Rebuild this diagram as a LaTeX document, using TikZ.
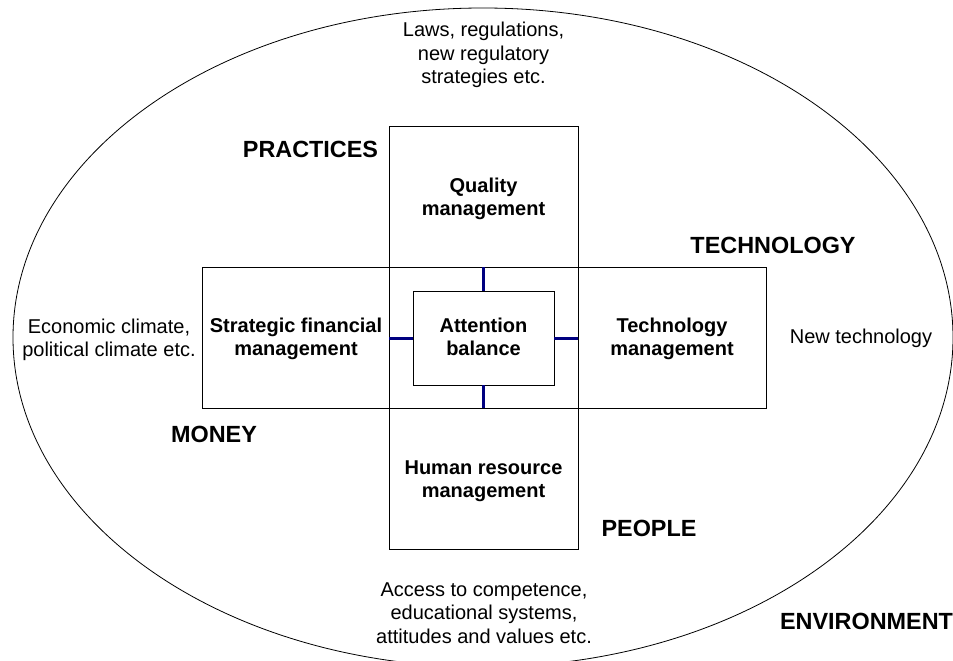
\documentclass[tikz,border=0pt]{standalone}
\usepackage{fontspec}
\setmainfont{Liberation Sans}
\newcommand{\ml}[1]{\begin{tabular}[t]{@{}c@{}}#1\end{tabular}}
\definecolor{tickblue}{RGB}{0,0,128}
\begin{document}
\begin{tikzpicture}[x=1pt,y=-1pt,
  txt/.style={inner sep=0pt, anchor=base, font=\fontsize{20}{23.5}\selectfont},
  btxt/.style={inner sep=0pt, anchor=base, font=\fontsize{20}{23.5}\selectfont\bfseries},
  lbl/.style={inner sep=0pt, anchor=base, font=\fontsize{23.4}{28}\selectfont\bfseries},
  box/.style={draw=black, line width=0.9pt, inner sep=0pt},
  tickline/.style={draw=tickblue, line width=3pt}]
\useasboundingbox (0,0) rectangle (953,661);
\clip (0,0) rectangle (953,661);
\fill[white] (0,0) rectangle (953,661);
% environment ellipse
\draw[line width=0.8pt] (483,337.5) ellipse [x radius=470pt, y radius=329.5pt];
% rectangles
\node[box, minimum width=189pt, minimum height=423pt] (vrect) at (483.5,337.5) {};
\node[box, minimum width=564pt, minimum height=141pt] (hrect) at (484,337.5) {};
\node[box, minimum width=141pt, minimum height=94pt] (inner) at (483.5,338) {};
% ticks
\draw[tickline] (inner.north) -- (inner.north |- hrect.north);
\draw[tickline] (inner.south) -- (inner.south |- hrect.south);
\draw[tickline] (inner.west) -- (inner.west -| vrect.west);
\draw[tickline] (inner.east) -- (inner.east -| vrect.east);
% box texts
\node[btxt] (quality) at (483.5,192) {\ml{Quality\\management}};
\node[btxt] (strat) at (296,332) {\ml{Strategic financial\\management}};
\node[btxt] (att) at (483.5,332) {\ml{Attention\\balance}};
\node[btxt] (techm) at (672,332) {\ml{Technology\\management}};
\node[btxt] (hrm) at (483.5,474) {\ml{Human resource\\management}};
% labels
\node[lbl] (practices) at (310.5,157) {PRACTICES};
\node[lbl] (technology) at (773,253) {TECHNOLOGY};
\node[lbl] (money) at (214,442) {MONEY};
\node[lbl] (people) at (649,536) {PEOPLE};
\node[lbl] (environment) at (866.5,629) {ENVIRONMENT};
% environment texts
\node[txt] (laws) at (483.5,37) {\ml{Laws, regulations,\\new regulatory\\strategies etc.}};
\node[txt] (econ) at (109,333) {\ml{Economic climate,\\political climate etc.}};
\node[txt] (newtech) at (861,343) {New technology};
\node[txt] (access) at (484,596) {\ml{Access to competence,\\educational systems,\\attitudes and values etc.}};
\end{tikzpicture}
\end{document}
